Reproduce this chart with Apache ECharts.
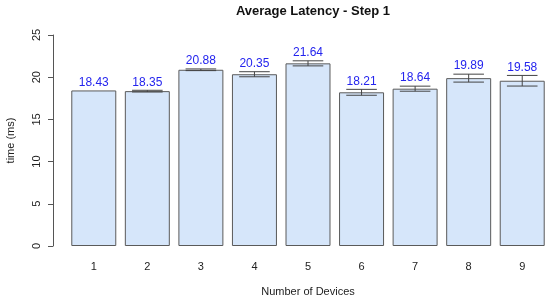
<!DOCTYPE html>
<html><head><meta charset="utf-8">
<script src="https://cdn.jsdelivr.net/npm/echarts@6/dist/echarts.min.js"></script>
<style>html,body{margin:0;padding:0;background:#fff}#c{width:550px;height:299px}</style>
</head><body><div id="c"></div>
<script>
const categories = ['1','2','3','4','5','6','7','8','9'];
const latency = [18.43, 18.35, 20.88, 20.35, 21.64, 18.21, 18.64, 19.89, 19.58];
const errors = [0.0, 0.1, 0.1, 0.3, 0.3, 0.35, 0.3, 0.47, 0.63];
const yTicks = [0, 5, 10, 15, 20, 25];

const chart = echarts.init(document.getElementById('c'));
const font = 'Liberation Sans, Arial, sans-serif';
chart.setOption({
  animation: false,
  title: { text: 'Average Latency - Step 1', left: 308, top: 0, textAlign: 'center',
    textStyle: { fontFamily: font, fontSize: 13, fontWeight: 'bold', color: '#111' } },
  grid: { left: 67, right: 1, top: 35, bottom: 53, containLabel: false, outerBoundsMode: 'none' },
  xAxis: { type: 'category', data: categories,
    name: 'Number of Devices', nameLocation: 'middle', nameGap: 40,
    nameTextStyle: { fontFamily: font, fontSize: 11, color: '#222' },
    axisLine: { show: false }, axisTick: { show: false },
    axisLabel: { fontFamily: font, fontSize: 11, color: '#222', margin: 15 } },
  yAxis: { type: 'value', min: yTicks[0], max: yTicks[yTicks.length-1], interval: 5, offset: 14,
    name: 'time (ms)', nameLocation: 'middle', nameGap: 37,
    nameTextStyle: { fontFamily: font, fontSize: 11, color: '#222' },
    axisLine: { show: true, lineStyle: { color: '#555' } },
    axisTick: { show: true, length: 5, lineStyle: { color: '#555' } },
    splitLine: { show: false },
    axisLabel: { fontFamily: font, fontSize: 11, color: '#222', rotate: 90, margin: 11 } },
  series: [
    { type: 'bar', data: latency, barCategoryGap: '16%',
      itemStyle: { color: '#d6e6fa', borderColor: '#5a5a5a', borderWidth: 1 } },
    { type: 'custom', data: latency.map((v, i) => [i, v, errors[i]]), z: 10,
      renderItem: function (params, api) {
        const i = api.value(0), v = api.value(1), e = api.value(2);
        const top = api.coord([i, v + e]);
        const bot = api.coord([i, v - e]);
        const bw = api.size([1, 0])[0] * 0.84;
        const hw = bw * 0.34;
        const x = top[0];
        const children = [];
        if (e > 0) {
          const s = { stroke: '#444', lineWidth: 1 };
          children.push({ type: 'line', shape: { x1: x, y1: top[1], x2: x, y2: bot[1] }, style: s });
          children.push({ type: 'line', shape: { x1: x - hw, y1: top[1], x2: x + hw, y2: top[1] }, style: s });
          children.push({ type: 'line', shape: { x1: x - hw, y1: bot[1], x2: x + hw, y2: bot[1] }, style: s });
        }
        children.push({ type: 'text', x: x, y: top[1] - 2,
          style: { text: v.toFixed(2), fill: '#2424ee', font: '12px ' + font, align: 'center', verticalAlign: 'bottom' } });
        return { type: 'group', children: children };
      } }
  ]
});
</script></body></html>
